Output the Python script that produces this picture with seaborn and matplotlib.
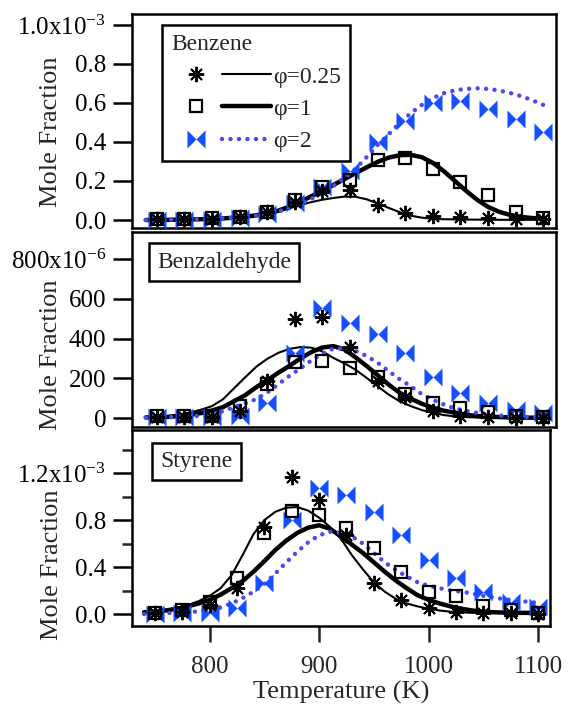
import numpy as np
import pandas as pd
import matplotlib
matplotlib.use("Agg")
import matplotlib.pyplot as plt
import seaborn as sns
from matplotlib.lines import Line2D
from matplotlib.legend_handler import HandlerTuple
from matplotlib.ticker import MultipleLocator

# experiment temperatures (K)
temp_exp = [750, 775, 800, 825, 850, 875, 900, 925, 950, 975, 1000, 1025, 1050, 1075, 1100]
# model temperatures (K)
temp_fit = [740, 750, 760, 770, 780, 790, 800, 810, 820, 830, 840, 850, 860, 870, 880, 890, 900,
            910, 920, 930, 940, 950, 960, 970, 980, 990, 1000, 1010, 1020, 1030, 1040, 1050,
            1060, 1070, 1080, 1090, 1100]

# Benzene, mole fraction x1e-3
benzene_exp_025 = [0.005, 0.005, 0.005, 0.015, 0.04, 0.09, 0.15, 0.155, 0.077, 0.035, 0.02, 0.013, 0.01, 0.005, 0.005]
benzene_exp_1 = [0.005, 0.005, 0.008, 0.015, 0.043, 0.10, 0.17, 0.205, 0.31, 0.32, 0.26, 0.195, 0.13, 0.04, 0.01]
benzene_exp_2 = [0.0, 0.0, 0.0, 0.01, 0.03, 0.085, 0.17, 0.25, 0.40, 0.51, 0.60, 0.61, 0.57, 0.52, 0.45]
benzene_fit_025 = [0.0, 0.0, 0.001, 0.001, 0.002, 0.003, 0.004, 0.006, 0.009, 0.013, 0.019, 0.028, 0.042,
                   0.06, 0.077, 0.092, 0.104, 0.113, 0.12, 0.119, 0.106, 0.085, 0.062, 0.04, 0.022, 0.012,
                   0.006, 0.004, 0.003, 0.002, 0.002, 0.001, 0.001, 0.001, 0.001, 0.001, 0.001]
benzene_fit_1 = [0.0, 0.001, 0.001, 0.002, 0.003, 0.004, 0.006, 0.008, 0.012, 0.017, 0.024, 0.034, 0.048,
                 0.068, 0.093, 0.122, 0.150, 0.180, 0.210, 0.240, 0.270, 0.298, 0.320, 0.332, 0.334, 0.322,
                 0.293, 0.250, 0.200, 0.150, 0.104, 0.067, 0.042, 0.026, 0.016, 0.010, 0.007]
benzene_fit_2 = [0.0, 0.001, 0.002, 0.003, 0.004, 0.005, 0.007, 0.009, 0.012, 0.016, 0.022, 0.031, 0.044,
                 0.061, 0.082, 0.109, 0.140, 0.175, 0.215, 0.263, 0.322, 0.385, 0.440, 0.497, 0.548, 0.590,
                 0.625, 0.650, 0.665, 0.672, 0.675, 0.672, 0.664, 0.651, 0.635, 0.614, 0.590]

# Benzaldehyde, mole fraction x1e-6
benzald_exp_025 = [5, 5, 5, 35, 185, 500, 510, 355, 185, 105, 35, 12, 3, 2, 1]
benzald_exp_1 = [8, 8, 10, 60, 170, 280, 285, 252, 205, 120, 78, 52, 28, 12, 6]
benzald_exp_2 = [5, 5, 5, 12, 75, 325, 555, 480, 425, 327, 206, 126, 75, 40, 25]
benzald_fit_025 = [5, 7, 10, 18, 28, 42, 60, 95, 150, 205, 258, 298, 328, 348, 357, 354, 335, 302, 275,
                   243, 202, 160, 118, 84, 60, 40, 26, 15, 8, 5, 3, 2, 2, 1, 1, 1, 1]
benzald_fit_1 = [3, 4, 6, 10, 16, 25, 38, 55, 85, 115, 155, 190, 228, 262, 300, 332, 355, 362, 345, 305,
                 262, 215, 168, 127, 97, 72, 52, 37, 27, 17, 10, 7, 5, 3, 2, 2, 1]
benzald_fit_2 = [2, 3, 4, 6, 8, 12, 20, 35, 55, 75, 95, 128, 170, 212, 250, 290, 325, 350, 350, 338,
                 312, 278, 236, 195, 160, 120, 92, 68, 48, 36, 26, 18, 13, 9, 6, 4, 2]

# Styrene, mole fraction x1e-3
styrene_exp_025 = [0.01, 0.02, 0.08, 0.22, 0.74, 1.17, 0.97, 0.67, 0.26, 0.12, 0.05, 0.02, 0.01, 0.01, 0.0]
styrene_exp_1 = [0.01, 0.03, 0.10, 0.31, 0.69, 0.88, 0.84, 0.73, 0.56, 0.36, 0.19, 0.15, 0.07, 0.03, 0.01]
styrene_exp_2 = [0.0, 0.01, 0.01, 0.05, 0.26, 0.80, 1.07, 1.01, 0.87, 0.67, 0.46, 0.31, 0.19, 0.10, 0.06]
styrene_fit_025 = [0.02, 0.025, 0.035, 0.05, 0.075, 0.11, 0.155, 0.22, 0.33, 0.50, 0.68, 0.80, 0.87, 0.905,
                   0.91, 0.88, 0.82, 0.74, 0.64, 0.50, 0.38, 0.27, 0.19, 0.13, 0.09, 0.065, 0.045, 0.03,
                   0.02, 0.015, 0.01, 0.01, 0.01, 0.01, 0.01, 0.01, 0.01]
styrene_fit_1 = [0.015, 0.02, 0.03, 0.045, 0.065, 0.09, 0.12, 0.165, 0.22, 0.28, 0.36, 0.45, 0.545, 0.625,
                 0.69, 0.735, 0.755, 0.725, 0.66, 0.59, 0.52, 0.44, 0.36, 0.285, 0.22, 0.16, 0.12, 0.09,
                 0.065, 0.045, 0.03, 0.02, 0.015, 0.012, 0.01, 0.01, 0.01]
styrene_fit_2 = [0.0, 0.005, 0.008, 0.012, 0.017, 0.022, 0.035, 0.055, 0.09, 0.135, 0.19, 0.255, 0.345,
                 0.44, 0.53, 0.61, 0.67, 0.70, 0.69, 0.66, 0.60, 0.52, 0.44, 0.375, 0.32, 0.27, 0.24,
                 0.22, 0.20, 0.19, 0.175, 0.155, 0.14, 0.125, 0.115, 0.105, 0.095]

phi_labels = ["\u03c6=0.25", "\u03c6=1", "\u03c6=2"]

sns.set_style("ticks")
plt.rcParams["font.family"] = ["Liberation Serif", "DejaVu Serif"]
plt.rcParams["mathtext.default"] = "regular"
plt.rcParams["axes.linewidth"] = 1.8

blue_mk = "#1450ff"
blue_ln = "#4a4af0"
ast = (8, 2, 0)
bowtie = [(-1, -1), (-1, 1), (0, 0), (1, 1), (1, -1), (0, 0)]
dots = (0, (0.01, 1.9))

fig = plt.figure(figsize=(5.68, 7.13), dpi=100)
ax_top = fig.add_axes([132/568, 1-228/713, 424/568, 214/713])
ax_mid = fig.add_axes([132/568, 1-427/713, 424/568, 195/713])
ax_bot = fig.add_axes([132/568, 1-626/713, 418/568, 196/713])


def draw(ax, fit025, fit1, fit2, exp025, exp1, exp2):
    sns.lineplot(x=temp_fit, y=fit025, ax=ax, color="k", lw=1.5, zorder=2)
    sns.lineplot(x=temp_fit, y=fit1, ax=ax, color="k", lw=3.2, zorder=2)
    sns.lineplot(x=temp_fit, y=fit2, ax=ax, color=blue_ln, lw=3.2, linestyle=dots,
                 dash_capstyle="round", zorder=2)
    sns.lineplot(x=temp_exp, y=exp025, ax=ax, linestyle="", marker=ast, markersize=11,
                 markeredgewidth=1.4, markeredgecolor="k", color="k", zorder=4)
    sns.lineplot(x=temp_exp, y=exp1, ax=ax, linestyle="", marker="s", markersize=9,
                 markeredgewidth=1.6, markeredgecolor="k", markerfacecolor="none", color="k", zorder=4)
    sns.lineplot(x=temp_exp, y=exp2, ax=ax, linestyle="", marker=bowtie, markersize=13,
                 markeredgewidth=0, markerfacecolor=blue_mk, color=blue_mk, zorder=3)


draw(ax_top, benzene_fit_025, benzene_fit_1, benzene_fit_2, benzene_exp_025, benzene_exp_1, benzene_exp_2)
draw(ax_mid, benzald_fit_025, benzald_fit_1, benzald_fit_2, benzald_exp_025, benzald_exp_1, benzald_exp_2)
draw(ax_bot, styrene_fit_025, styrene_fit_1, styrene_fit_2, styrene_exp_025, styrene_exp_1, styrene_exp_2)

ax_top.set_xlim(727.5, 1111.5)
ax_mid.set_xlim(727.5, 1111.5)
ax_bot.set_xlim(729, 1111)
ax_top.set_ylim(-0.041, 1.056)
ax_mid.set_ylim(-45, 936)
ax_bot.set_ylim(-0.102, 1.566)

ax_top.set_yticks([0, 0.2, 0.4, 0.6, 0.8, 1.0],
                  labels=["0.0", "0.2", "0.4", "0.6", "0.8", "1.0x10$^{-3}$"])
ax_mid.set_yticks([0, 200, 400, 600, 800], labels=["0", "200", "400", "600", "800x10$^{-6}$"])
ax_bot.set_yticks([0, 0.4, 0.8, 1.2], labels=["0.0", "0.4", "0.8", "1.2x10$^{-3}$"])
ax_bot.yaxis.set_minor_locator(MultipleLocator(0.2))
ax_bot.set_xticks([800, 900, 1000, 1100])

label_y = [0.45, 0.37, 0.31]
for ax, ly in zip([ax_top, ax_mid, ax_bot], label_y):
    for sp in ax.spines.values():
        sp.set_visible(True)
        sp.set_linewidth(1.8)
        sp.set_color("k")
    ax.tick_params(axis="y", which="major", direction="out", length=13.5, width=1.8, pad=5,
                   labelsize=18, colors="k")
    ax.tick_params(axis="y", which="minor", direction="out", length=7, width=1.8)
    ax.set_ylabel("Mole Fraction", fontsize=19)
    ax.yaxis.set_label_coords(-0.165, ly)
    ax.set_xlabel("")
    ax.grid(False)

ax_top.tick_params(axis="x", bottom=False, labelbottom=False)
ax_mid.tick_params(axis="x", bottom=False, labelbottom=False)
ax_bot.tick_params(axis="x", direction="out", length=11.5, width=1.8, pad=10, labelsize=18)
ax_bot.set_xlabel("Temperature (K)", fontsize=19, labelpad=2)

# legend with title
handles = [
    (Line2D([], [], ls="none", marker=ast, ms=11, mew=1.4, color="k"), Line2D([], [], color="k", lw=1.5)),
    (Line2D([], [], ls="none", marker="s", ms=9, mew=1.6, mfc="none", color="k"), Line2D([], [], color="k", lw=3.2)),
    (Line2D([], [], ls="none", marker=bowtie, ms=13, mew=0, color=blue_mk),
     Line2D([], [], color=blue_ln, lw=3.2, ls=dots, dash_capstyle="round")),
]
leg = ax_top.legend(handles, phi_labels, handler_map={tuple: HandlerTuple(ndivide=2, pad=0.1)},
                    title="Benzene", title_fontsize=17, fontsize=17, alignment="left",
                    loc="upper left", bbox_to_anchor=(0.071, 0.949), borderaxespad=0,
                    handlelength=4.2, handletextpad=0.1, labelspacing=0.45, borderpad=0.4,
                    fancybox=False, framealpha=1, edgecolor="k")
leg.get_frame().set_linewidth(1.8)

box = dict(boxstyle="square,pad=0.35", fc="white", ec="k", lw=1.8)
ax_mid.text(0.059, 0.846, "Benzaldehyde", transform=ax_mid.transAxes, ha="left", va="center",
            fontsize=17, bbox=box, zorder=5)
ax_bot.text(0.067, 0.839, "Styrene", transform=ax_bot.transAxes, ha="left", va="center",
            fontsize=17, bbox=box, zorder=5)

fig.savefig("out.png", dpi=100)
